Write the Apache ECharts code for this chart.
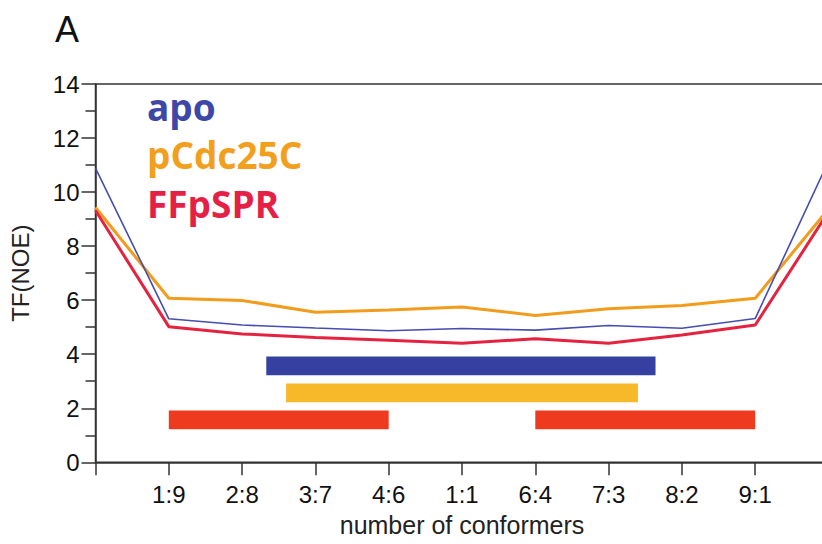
<!DOCTYPE html>
<html>
<head>
<meta charset="utf-8">
<title>TF(NOE) vs number of conformers</title>
<script src="https://cdn.jsdelivr.net/npm/echarts@6/dist/echarts.min.js"></script>
<style>
  html, body { margin: 0; padding: 0; background: #fff; }
  #chart { width: 822px; height: 544px; }
</style>
</head>
<body>
<div id="chart"></div>
<script>
// Conformer ratio positions along the x axis (0 .. 10) and their tick labels
const tickLabels = ['', '1:9', '2:8', '3:7', '4:6', '1:1', '6:4', '7:3', '8:2', '9:1', ''];

// TF(NOE) per ensemble mixture
const apo     = [10.89, 5.31, 5.08, 4.97, 4.87, 4.95, 4.89, 5.06, 4.96, 5.32, 11.14];
const pCdc25C = [9.43, 6.07, 5.99, 5.55, 5.64, 5.75, 5.43, 5.68, 5.80, 6.07, 9.38];
const FFpSPR  = [9.32, 5.02, 4.75, 4.62, 4.52, 4.41, 4.57, 4.41, 4.71, 5.08, 9.27];

// Acceptable ranges: [from, to, level]
const apoRanges     = [[2.33, 7.64, 3.57]];
const pCdc25CRanges = [[2.60, 7.40, 2.57]];
const FFpSPRRanges  = [[1.00, 4.00, 1.57], [6.00, 9.00, 1.57]];

const colors = {
  apoLine: '#474cb0', pLine: '#f29c1c', fLine: '#e5223f',
  apoBar: '#3540a0', pBar: '#f7b829', fBar: '#ee3a1f',
  apoText: '#3d47a8', pText: '#f29f1d', fText: '#e51f45'
};

const toPoints = arr => arr.map((v, i) => [i, v]);

function rangeSeries(name, data, color) {
  return {
    name: name,
    type: 'custom',
    data: data,
    encode: { x: [0, 1], y: 2 },
    z: 1,
    renderItem: function (params, api) {
      const a = api.coord([api.value(0), api.value(2)]);
      const b = api.coord([api.value(1), api.value(2)]);
      const h = api.size([0, 0.7])[1];
      return {
        type: 'rect',
        shape: { x: a[0], y: a[1] - h / 2, width: b[0] - a[0], height: h },
        style: { fill: color }
      };
    }
  };
}

function lineSeries(name, data, color, width, z) {
  return {
    name: name,
    type: 'line',
    data: toPoints(data),
    symbol: 'none',
    smooth: false,
    clip: true,
    z: z,
    lineStyle: { color: color, width: width }
  };
}

const labelFont = 'Liberation Sans, Arial, Helvetica, sans-serif';
const legendFont = 'bold 37px "Open Sans", sans-serif';

const chart = echarts.init(document.getElementById('chart'), null, { renderer: 'svg' });

chart.setOption({
  animation: false,
  backgroundColor: '#fff',
  title: {
    text: 'A',
    left: 50,
    top: 6,
    textStyle: { fontFamily: labelFont, fontSize: 36, fontWeight: 'normal', color: '#111' }
  },
  grid: {
    left: 95.5,
    top: 84,
    width: 733,
    height: 378.3,
    containLabel: false,
    outerBoundsMode: 'none',
    show: true,
    borderColor: '#333',
    borderWidth: 1.5,
    backgroundColor: 'transparent'
  },
  xAxis: {
    type: 'value',
    min: 0,
    max: 10,
    interval: 1,
    name: 'number of conformers',
    nameLocation: 'middle',
    nameGap: 50,
    nameTextStyle: { fontFamily: labelFont, fontSize: 25, color: '#222' },
    axisLine: { show: true, lineStyle: { color: '#333', width: 1.5 } },
    axisTick: { show: true, length: 13, lineStyle: { color: '#333', width: 1.5 } },
    axisLabel: {
      margin: 20,
      fontFamily: labelFont,
      fontSize: 24,
      color: '#111',
      formatter: v => tickLabels[Math.round(v)] || ''
    },
    splitLine: { show: false }
  },
  yAxis: {
    type: 'value',
    min: 0,
    max: 14,
    interval: 2,
    name: 'TF(NOE)',
    nameLocation: 'middle',
    nameGap: 63,
    nameTextStyle: { fontFamily: labelFont, fontSize: 24, color: '#222' },
    axisLine: { show: true, lineStyle: { color: '#333', width: 1.5 } },
    axisTick: { show: true, length: 14, lineStyle: { color: '#333', width: 1.5 } },
    minorTick: { show: true, splitNumber: 2, length: 10, lineStyle: { color: '#333', width: 1.5 } },
    axisLabel: { margin: 16, fontFamily: labelFont, fontSize: 24, color: '#111' },
    splitLine: { show: false },
    minorSplitLine: { show: false }
  },
  graphic: [
    { type: 'text', left: 147, top: 88, style: { text: 'apo', font: legendFont, fill: colors.apoText } },
    { type: 'text', left: 147, top: 136, style: { text: 'pCdc25C', font: legendFont, fill: colors.pText } },
    { type: 'text', left: 147, top: 185, style: { text: 'FFpSPR', font: legendFont, fill: colors.fText } }
  ],
  series: [
    rangeSeries('apo range', apoRanges, colors.apoBar),
    rangeSeries('pCdc25C range', pCdc25CRanges, colors.pBar),
    rangeSeries('FFpSPR range', FFpSPRRanges, colors.fBar),
    lineSeries('pCdc25C', pCdc25C, colors.pLine, 3, 3),
    lineSeries('FFpSPR', FFpSPR, colors.fLine, 3, 4),
    lineSeries('apo', apo, colors.apoLine, 1.6, 5)
  ]
});
</script>
</body>
</html>
